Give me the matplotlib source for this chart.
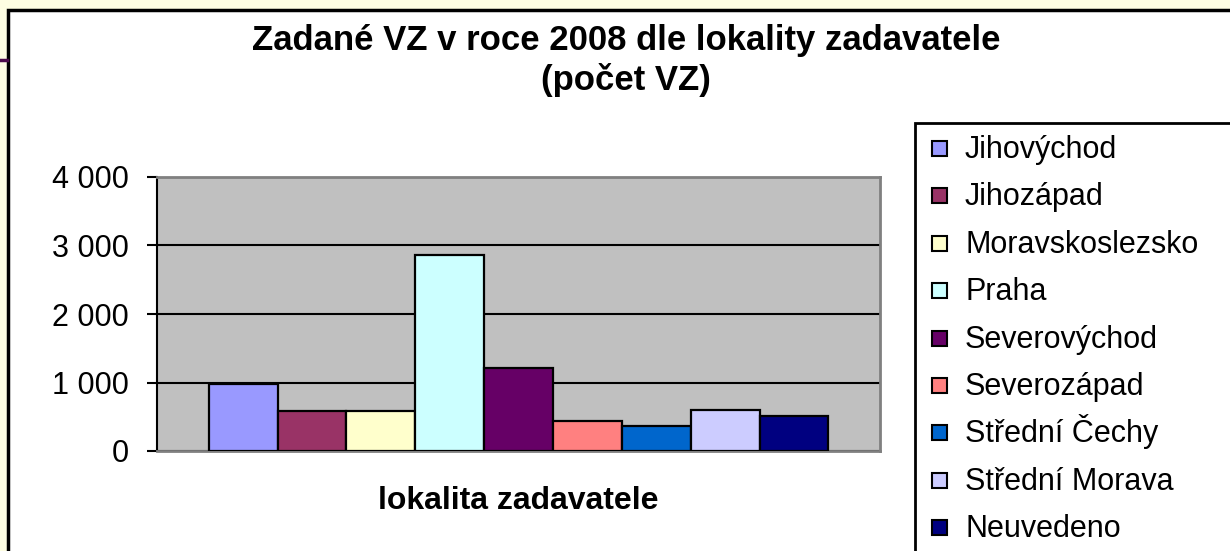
import matplotlib.pyplot as plt
from matplotlib.patches import Rectangle
from matplotlib.lines import Line2D

plt.rcParams['font.family'] = ['Liberation Sans', 'DejaVu Sans']

# data
regions = ['Jihovýchod', 'Jihozápad', 'Moravskoslezsko', 'Praha', 'Severovýchod',
           'Severozápad', 'Střední Čechy', 'Střední Morava', 'Neuvedeno']
counts = [980, 590, 590, 2860, 1210, 435, 365, 595, 515]
colors = ['#9999FF', '#993366', '#FFFFCC', '#CCFFFF', '#660066',
          '#FF8080', '#0066CC', '#CCCCFF', '#000080']
yticks = [0, 1000, 2000, 3000, 4000]
ylabels = ['0', '1 000', '2 000', '3 000', '4 000']

W, H = 1230, 551
fig = plt.figure(figsize=(W / 100, H / 100), dpi=100)
fig.patch.set_facecolor('#fdfde2')

# white chart area with black border (left/top visible)
fig.patches.append(Rectangle((8 / W, -0.05), 1.1, 1 - 10 / H + 0.05, transform=fig.transFigure,
                             facecolor='white', edgecolor='black', lw=2.5, zorder=-2))
# legend box, running off the right and bottom edges
fig.patches.append(Rectangle((915 / W, -0.05), 1.0, 1 - 123 / H + 0.05, transform=fig.transFigure,
                             facecolor='white', edgecolor='black', lw=2, zorder=-1))
fig.lines.append(Line2D([0, 7 / W], [1 - 60 / H, 1 - 60 / H], transform=fig.transFigure,
                        color='#4b0a4b', lw=2.5))

ax = fig.add_axes([157 / W, 1 - 451 / H, (880 - 157) / W, (451 - 177) / H])
ax.set_facecolor('#C0C0C0')

for i, (r, v, c) in enumerate(zip(regions, counts, colors)):
    ax.bar(i, v, width=1.0, color=c, edgecolor='black', linewidth=1.6, label=r, zorder=3)

ax.set_xlim(-1.25, 9.25)
ax.set_ylim(0, 4000)
ax.set_xticks([])
ax.set_yticks(yticks)
ax.set_yticklabels(ylabels, fontsize=22)
ax.tick_params(axis='y', direction='out', length=7, width=1.5, pad=13, color='black')
ax.yaxis.grid(True, color='black', lw=1.5, zorder=1)
ax.set_axisbelow(True)
for s in ['top', 'right', 'bottom']:
    ax.spines[s].set_color('#808080')
    ax.spines[s].set_linewidth(2)
ax.spines['left'].set_color('black')
ax.spines['left'].set_linewidth(1.5)

ax.set_xlabel('lokalita zadavatele', fontsize=23, fontweight='bold', labelpad=25)

fig.text(626 / W, 1 - 24 / H, 'Zadané VZ v roce 2008 dle lokality zadavatele\n(počet VZ)',
         ha='center', va='top', fontsize=25, fontweight='bold', linespacing=1.22)

# legend entries, evenly spaced like the original
row = 47.4
for i, (r, c) in enumerate(zip(regions, colors)):
    yc = 148.5 + i * row
    fig.patches.append(Rectangle((932 / W, 1 - (yc + 7.5) / H), 15 / W, 15 / H,
                                 transform=fig.transFigure, facecolor=c,
                                 edgecolor='black', lw=1.5))
    fig.text(965 / W, 1 - (yc + 9.5) / H, r, fontsize=22, ha='left', va='baseline')

fig.savefig('out.png', dpi=100, facecolor=fig.get_facecolor())
